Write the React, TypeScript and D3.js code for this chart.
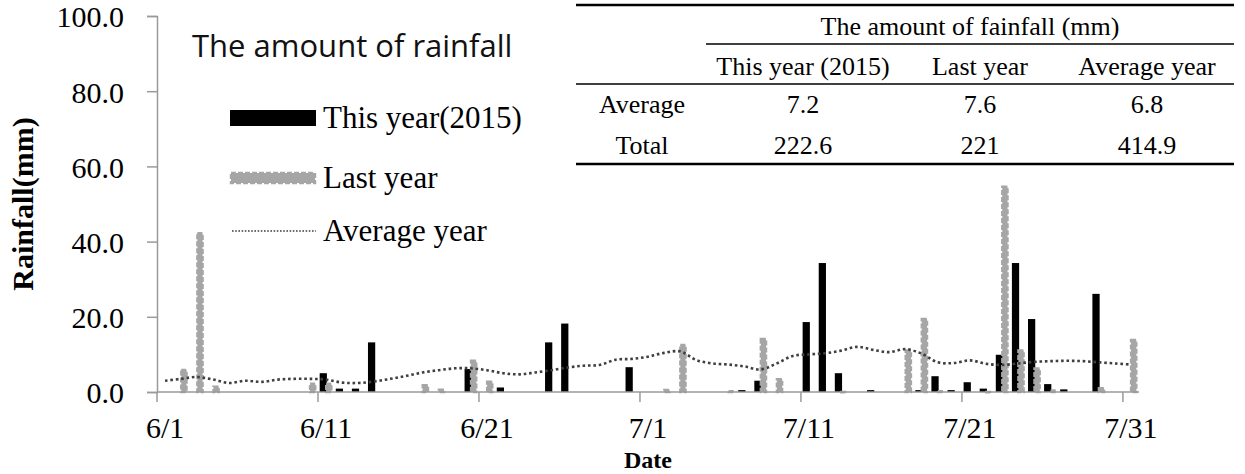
import React, { useEffect, useRef } from 'react';
import * as d3 from 'd3';

// daily rainfall (mm) from 6/1 to 7/31, 2015
const thisYear = [
  0, 0, 0, 0, 0, 0, 0, 0, 0, 0,
  5.0, 0.9, 0.9, 13.2, 0, 0, 0, 0, 0, 6.1,
  0, 1.2, 0, 0, 13.2, 18.2, 0, 0, 0, 6.6,
  0, 0, 0, 0, 0, 0, 0.5, 3.0, 0, 0,
  18.6, 34.3, 5.0, 0, 0.5, 0, 0, 0.5, 4.2, 0.5,
  2.6, 0.9, 9.9, 34.3, 19.4, 2.1, 0.7, 0, 26.1, 0,
  0
];
const lastYear = [
  0, 6.1, 42.5, 1.7, 0, 0, 0, 0, 0, 2.5,
  2.5, 0, 0, 0, 0, 0, 2.1, 0.9, 0, 8.6,
  3.0, 0, 0, 0, 0, 0, 0, 0, 0, 0,
  0, 0.8, 12.8, 0, 0, 0.5, 0, 14.4, 3.7, 0,
  0, 0, 0.3, 0, 0, 0, 11.3, 19.7, 0.5, 0,
  0, 0.3, 54.9, 11.3, 6.5, 0.7, 0, 0, 1.3, 0,
  14.1
];
const averageYear = [
  3.0, 3.5, 4.0, 3.3, 2.4, 3.0, 2.7, 3.3, 3.5, 3.5,
  3.3, 2.5, 2.4, 2.8, 3.5, 4.3, 5.2, 5.8, 6.3, 6.3,
  5.8, 5.0, 4.7, 5.2, 5.8, 6.5, 7.0, 7.2, 8.6, 8.8,
  9.4, 10.4, 10.8, 8.5, 7.6, 7.3, 6.8, 6.0, 7.6, 9.6,
  10.0, 10.3, 11.0, 12.0, 11.2, 10.6, 11.4, 10.2, 7.9, 7.7,
  8.4, 7.5, 7.2, 7.6, 8.0, 8.2, 8.3, 8.2, 7.9, 7.6,
  7.3
];
const xTickLabels = ['6/1', '6/11', '6/21', '7/1', '7/11', '7/21', '7/31'];
const yTickValues = [0, 20, 40, 60, 80, 100];
const legendLabels = ['This year(2015)', 'Last year', 'Average year'];
const tableTitle = 'The amount of fainfall (mm)';
const tableColumns = ['This year (2015)', 'Last year', 'Average year'];
const tableRowNames = ['Average', 'Total'];
const tableAverage = ['7.2', '7.6', '6.8'];
const tableTotal = ['222.6', '221', '414.9'];

const days = d3.timeDay.range(new Date(2015, 5, 1), new Date(2015, 7, 1));
const fmt = d3.timeFormat('%-m/%-d');

const SERIF = '"Liberation Serif", "Times New Roman", serif';

export default function App() {
  const ref = useRef<SVGSVGElement>(null);

  useEffect(() => {
    const svg = d3.select(ref.current);
    svg.selectAll('*').remove();

    const left = 157, right = 1139, top = 16, bottom = 392;
    const x = d3.scaleBand<string>().domain(days.map(d => fmt(d))).range([left, right]).padding(0);
    const y = d3.scaleLinear().domain([0, 100]).range([bottom, top]);
    const bw = x.bandwidth();
    const barW = bw * 0.45;
    const shift = bw * 0.17;
    const cx = (k: string) => (x(k) as number) + bw / 2;

    const rows = days.map((d, i) => ({
      key: fmt(d), cur: thisYear[i], prev: lastYear[i], avg: averageYear[i]
    }));

    // y axis
    const yAxis = svg.append('g')
      .attr('transform', `translate(${left},0)`)
      .call(d3.axisLeft(y).tickValues(yTickValues).tickSize(10).tickFormat(d3.format('.1f')));
    yAxis.select('.domain').attr('stroke', '#9a9a9a').attr('stroke-width', 1.5);
    yAxis.selectAll('.tick line').attr('stroke', '#9a9a9a').attr('stroke-width', 1.5);
    yAxis.selectAll('.tick text')
      .attr('x', -33).attr('dy', '0.36em').attr('font-family', SERIF).attr('font-size', 30).attr('fill', '#000');

    // bars: this year (black) below, last year (grey, dashed border) above
    svg.append('g').selectAll('rect')
      .data(rows.filter(r => r.cur > 0))
      .enter().append('rect')
      .attr('x', r => cx(r.key) - shift - barW / 2)
      .attr('y', r => y(r.cur))
      .attr('width', barW)
      .attr('height', r => y(0) - y(r.cur))
      .attr('fill', '#000');

    svg.append('g').selectAll('rect')
      .data(rows.filter(r => r.prev > 0))
      .enter().append('rect')
      .attr('x', r => cx(r.key) + shift - barW / 2 + 1)
      .attr('y', r => y(r.prev) + 1)
      .attr('width', barW - 2)
      .attr('height', r => Math.max(0.5, y(0) - y(r.prev) - 1))
      .attr('fill', '#a6a6a6')
      .attr('stroke', '#a6a6a6')
      .attr('stroke-width', 2.4)
      .attr('stroke-dasharray', '5 2');

    // average year smoothed dotted line
    const line = d3.line<typeof rows[number]>()
      .x(r => cx(r.key))
      .y(r => y(r.avg))
      .curve(d3.curveCatmullRom);
    svg.append('path')
      .datum(rows)
      .attr('d', line)
      .attr('fill', 'none')
      .attr('stroke', '#3f3f3f')
      .attr('stroke-width', 2.6)
      .attr('stroke-dasharray', '2.6 2.8');

    // x axis
    const xAxis = svg.append('g');
    xAxis.append('line')
      .attr('x1', left).attr('x2', right)
      .attr('y1', y(0)).attr('y2', y(0))
      .attr('stroke', '#9a9a9a').attr('stroke-width', 1.5);
    xTickLabels.forEach(lbl => {
      const tx = x(lbl) as number;
      xAxis.append('line')
        .attr('x1', tx).attr('x2', tx)
        .attr('y1', y(0)).attr('y2', y(0) + 10)
        .attr('stroke', '#9a9a9a').attr('stroke-width', 1.5);
      xAxis.append('text')
        .attr('x', cx(lbl)).attr('y', 438)
        .attr('text-anchor', 'middle')
        .attr('font-family', SERIF).attr('font-size', 30)
        .text(lbl);
    });

    svg.append('text')
      .attr('x', (left + right) / 2).attr('y', 468)
      .attr('text-anchor', 'middle')
      .attr('font-family', SERIF).attr('font-size', 24).attr('font-weight', 'bold')
      .text('Date');

    svg.append('text')
      .attr('transform', `translate(33,${(top + bottom) / 2}) rotate(-90)`)
      .attr('text-anchor', 'middle')
      .attr('font-family', SERIF).attr('font-size', 30).attr('font-weight', 'bold')
      .text('Rainfall(mm)');

    // title and legend
    svg.append('text')
      .attr('x', 192).attr('y', 57)
      .attr('font-family', '"Open Sans", sans-serif').attr('font-size', 31).attr('fill', '#111')
      .text('The amount of rainfall');

    const legend = svg.append('g');
    const legendY = [118, 178, 231];
    legend.append('rect')
      .attr('x', 230).attr('y', legendY[0] - 8).attr('width', 86).attr('height', 16)
      .attr('fill', '#000');
    legend.append('rect')
      .attr('x', 231).attr('y', legendY[1] - 5).attr('width', 84).attr('height', 10)
      .attr('fill', '#a6a6a6').attr('stroke', '#a6a6a6')
      .attr('stroke-width', 2.4).attr('stroke-dasharray', '5 2');
    legend.append('line')
      .attr('x1', 232).attr('x2', 316).attr('y1', legendY[2]).attr('y2', legendY[2])
      .attr('stroke', '#3f3f3f').attr('stroke-width', 1.6).attr('stroke-dasharray', '1.6 1.6');
    legendLabels.forEach((lbl, i) => {
      legend.append('text')
        .attr('x', 323).attr('y', legendY[i] + 10)
        .attr('font-family', SERIF).attr('font-size', 31)
        .text(lbl);
    });

    // summary table
    const table = svg.append('g').attr('font-family', SERIF).attr('font-size', 26);
    const tl = 576, tr = 1234;
    const colX = [803, 980, 1147];
    const hline = (x1: number, yy: number, w: number) =>
      table.append('line').attr('x1', x1).attr('x2', tr).attr('y1', yy).attr('y2', yy)
        .attr('stroke', '#000').attr('stroke-width', w);
    hline(tl, 5, 2.5);
    hline(706, 44, 1.5);
    hline(tl, 84, 1.5);
    hline(tl, 164, 2.5);
    table.append('text').attr('x', (706 + tr) / 2).attr('y', 35)
      .attr('text-anchor', 'middle').text(tableTitle);
    tableColumns.forEach((c, i) => {
      table.append('text').attr('x', colX[i]).attr('y', 75)
        .attr('text-anchor', 'middle').text(c);
    });
    [tableAverage, tableTotal].forEach((vals, r) => {
      const yy = r === 0 ? 113 : 154;
      table.append('text').attr('x', 642).attr('y', yy)
        .attr('text-anchor', 'middle').text(tableRowNames[r]);
      vals.forEach((v, i) => {
        table.append('text').attr('x', colX[i]).attr('y', yy)
          .attr('text-anchor', 'middle').text(v);
      });
    });
  }, []);

  return (
    <div style={{ position: 'absolute', left: 0, top: 0, background: '#fff' }}>
      <svg ref={ref} width={1245} height={474} style={{ display: 'block' }} />
    </div>
  );
}
